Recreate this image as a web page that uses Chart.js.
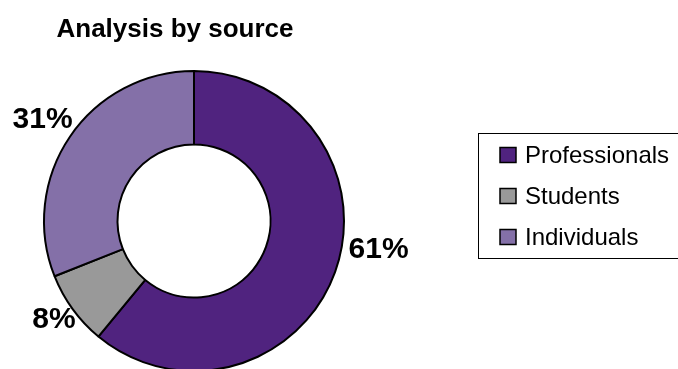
<!DOCTYPE html>
<html>
<head>
<meta charset="utf-8">
<script src="https://cdn.jsdelivr.net/npm/chart.js@4/dist/chart.umd.min.js"></script>
<style>
  html, body { margin: 0; padding: 0; background: #fff; overflow: hidden; }
  #wrap { width: 678px; height: 369px; overflow: hidden; }
</style>
</head>
<body>
<div id="wrap"><canvas id="myChart" width="678" height="400" style="width:678px;height:400px"></canvas></div>
<script>
// data
const chartTitle = "Analysis by source";
const sources = ["Professionals", "Students", "Individuals"];
const shares = [61, 8, 31];
const colours = ["#50237f", "#999999", "#8470a8"];

// labels were moved by hand in the original, so each gets a small shift
const labelShift = [[4, -25], [11, 5], [11, -11]];
const fontFamily = '"Liberation Sans", Arial, sans-serif';

const extras = {
  id: "extras",
  afterDraw(chart) {
    const ctx = chart.ctx;
    ctx.save();
    ctx.fillStyle = "#000";

    // title
    ctx.font = "bold 26px " + fontFamily;
    ctx.textAlign = "center";
    ctx.textBaseline = "alphabetic";
    ctx.fillText(chartTitle, 175, 37);

    // percentage labels outside the ring
    ctx.font = "bold 30px " + fontFamily;
    ctx.textBaseline = "middle";
    chart.getDatasetMeta(0).data.forEach((arc, i) => {
      const p = arc.getProps(["x", "y", "startAngle", "endAngle", "outerRadius"], true);
      const mid = (p.startAngle + p.endAngle) / 2;
      const r = p.outerRadius + 10;
      ctx.textAlign = Math.cos(mid) >= 0 ? "left" : "right";
      ctx.fillText(shares[i] + "%",
        p.x + Math.cos(mid) * r + labelShift[i][0],
        p.y + Math.sin(mid) * r + labelShift[i][1]);
    });

    // legend box
    ctx.lineWidth = 1;
    ctx.strokeStyle = "#000";
    ctx.strokeRect(478.5, 133.5, 230, 125);
    ctx.font = "24px " + fontFamily;
    ctx.textAlign = "left";
    ctx.textBaseline = "middle";
    sources.forEach((name, i) => {
      const cy = 155 + i * 41;
      ctx.fillStyle = colours[i];
      ctx.fillRect(500, cy - 7.5, 16, 15);
      ctx.lineWidth = 1.5;
      ctx.strokeRect(500, cy - 7.5, 16, 15);
      ctx.fillStyle = "#000";
      ctx.fillText(name, 525, cy + 1);
    });
    ctx.restore();
  }
};

const ctx = document.getElementById("myChart").getContext("2d");
const myChart = new Chart(ctx, {
  type: "doughnut",
  data: {
    labels: sources,
    datasets: [
      {
        data: shares,
        backgroundColor: colours,
        borderColor: "#000",
        borderWidth: 2,
      },
    ],
  },
  options: {
    responsive: false,
    animation: false,
    cutout: "51%",
    layout: {
      padding: { left: 42, right: 332, top: 70, bottom: 28 },
    },
    plugins: {
      legend: { display: false },
      title: { display: false },
      tooltip: { enabled: false },
    },
  },
  plugins: [extras],
});
</script>
</body>
</html>
